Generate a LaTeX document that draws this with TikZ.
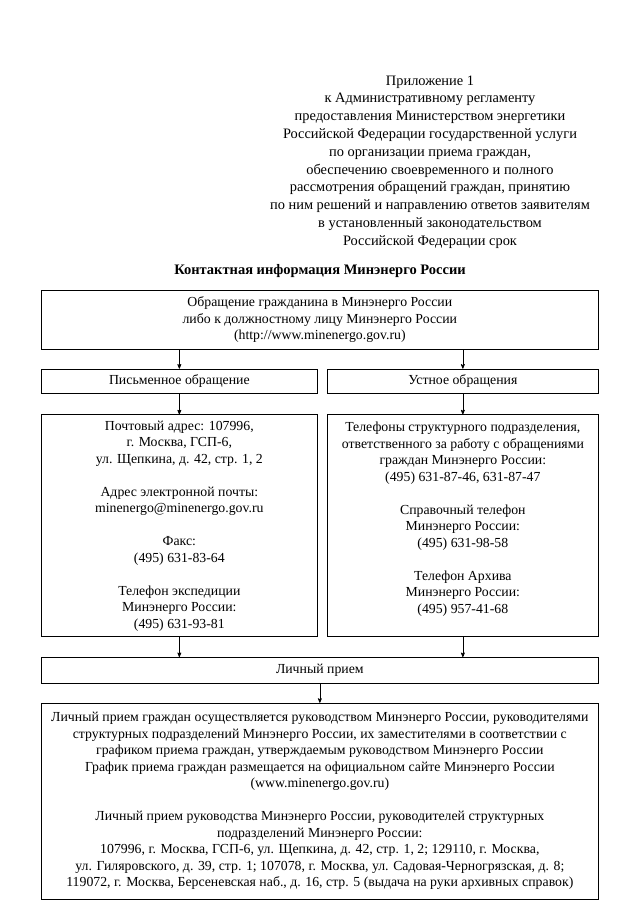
\documentclass[tikz,border=0pt]{standalone}
\usepackage{fontspec}
\setmainfont{Liberation Serif}
\usetikzlibrary{arrows,positioning}

\begin{document}
\begin{tikzpicture}[x=1pt, y=1pt, node distance=19pt, >=stealth',
    block/.style={rectangle, draw, line width=0.7pt, align=center, inner sep=0pt, font=\fontsize{13.8}{16.5}\selectfont},
    arrow/.style={->, line width=0.7pt}]
    \useasboundingbox (0,0) rectangle (640,-905);
    \node[align=center, font=\fontsize{14.4}{17.8}\selectfont] (pril) at (430,-162) {Приложение 1\\к Административному регламенту\\предоставления Министерством энергетики\\Российской Федерации государственной услуги\\по организации приема граждан,\\обеспечению своевременного и полного\\рассмотрения обращений граждан, принятию\\по ним решений и направлению ответов заявителям\\в установленный законодательством\\Российской Федерации срок};
    \node[font=\fontsize{14.5}{17}\selectfont\bfseries] (zag) at (320,-271) {Контактная информация Минэнерго России};
    \node[block, minimum width=557pt, minimum height=59pt, anchor=north west] (obr) at (41,-290) {Обращение гражданина в Минэнерго России\\либо к должностному лицу Минэнерго России\\(http://www.minenergo.gov.ru)};
    \node[block, minimum width=276pt, minimum height=24pt, below right=19pt and 0pt of obr.south west] (pis) {Письменное обращение};
    \node[block, minimum width=271pt, minimum height=24pt, below left=19pt and 0pt of obr.south east] (ust) {Устное обращения};
    \node[block, minimum width=276pt, minimum height=222pt, below=21pt of pis] (pocht) {Почтовый адрес: 107996,\\г. Москва, ГСП-6,\\ул. Щепкина, д. 42, стр. 1, 2\\[16.5pt]Адрес электронной почты:\\minenergo@minenergo.gov.ru\\[16.5pt]Факс:\\(495) 631-83-64\\[16.5pt]Телефон экспедиции\\Минэнерго России:\\(495) 631-93-81};
    \node[block, minimum width=271pt, minimum height=222pt, below=21pt of ust] (tel) {Телефоны структурного подразделения,\\ответственного за работу с обращениями\\граждан Минэнерго России:\\(495) 631-87-46, 631-87-47\\[16.5pt]Справочный телефон\\Минэнерго России:\\(495) 631-98-58\\[16.5pt]Телефон Архива\\Минэнерго России:\\(495) 957-41-68\\ \mbox{}};
    \node[block, minimum width=557pt, minimum height=26pt, below right=20pt and 0pt of pocht.south west] (lich) {Личный прием};
    \node[block, minimum width=557pt, minimum height=196pt, below=19pt of lich] (graf) {Личный прием граждан осуществляется руководством Минэнерго России, руководителями\\структурных подразделений Минэнерго России, их заместителями в соответствии с\\графиком приема граждан, утверждаемым руководством Минэнерго России\\График приема граждан размещается на официальном сайте Минэнерго России\\(www.minenergo.gov.ru)\\[16.5pt]Личный прием руководства Минэнерго России, руководителей структурных\\подразделений Минэнерго России:\\107996, г. Москва, ГСП-6, ул. Щепкина, д. 42, стр. 1, 2; 129110, г. Москва,\\ул. Гиляровского, д. 39, стр. 1; 107078, г. Москва, ул. Садовая-Черногрязская, д. 8;\\119072, г. Москва, Берсеневская наб., д. 16, стр. 5 (выдача на руки архивных справок)};

    \draw[arrow] (pis.north |- obr.south) -- (pis.north);
    \draw[arrow] (ust.north |- obr.south) -- (ust.north);
    \draw[arrow] (pis) -- (pocht);
    \draw[arrow] (ust) -- (tel);
    \draw[arrow] (pocht.south) -- (pocht.south |- lich.north);
    \draw[arrow] (tel.south) -- (tel.south |- lich.north);
    \draw[arrow] (lich) -- (graf);
\end{tikzpicture}
\end{document}
